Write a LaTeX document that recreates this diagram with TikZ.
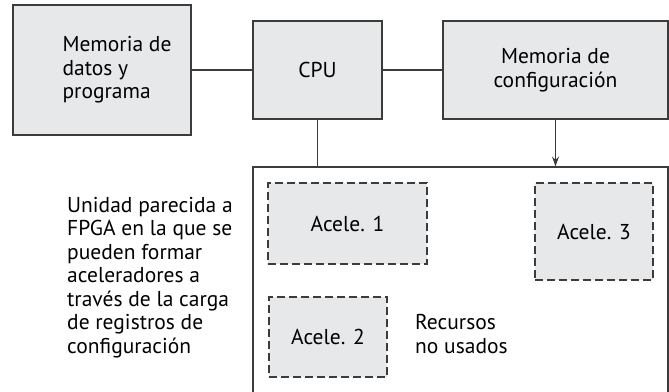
\documentclass[tikz,border=0pt]{standalone}
\usepackage{fontspec}
\setmainfont{PT Sans}
\usepackage{tikz}
\usetikzlibrary{arrows.meta,positioning}
\definecolor{boxgray}{RGB}{231,232,234}
\definecolor{edgegray}{RGB}{60,60,60}

\begin{document}
\begin{tikzpicture}[x=1pt,y=-1pt,>={Stealth[length=10pt,width=7pt]},
  font=\fontsize{21.5}{23.5}\selectfont,
  blk/.style={draw=edgegray,line width=1.1pt,fill=boxgray,inner sep=0pt,align=center},
  acc/.style={draw=edgegray,line width=1.1pt,fill=boxgray,inner sep=0pt,dash pattern=on 8pt off 4pt},
  wire/.style={edgegray,line width=1.1pt}]
  \useasboundingbox (0,0) rectangle (669,391);
  \node[blk,minimum width=178pt,minimum height=130pt,
    label={[xshift=15pt,align=left]center:Memoria de\\datos y\\programa}] (mem) at (102,70) {};
  \node[blk,minimum width=129pt,minimum height=98pt] (cpu) at (317.5,70) {CPU};
  \node[blk,minimum width=225pt,minimum height=98pt] (conf) at (555.5,70) {Memoria de\\configuración};
  \draw[wire] (mem) -- (cpu);
  \draw[wire] (cpu) -- (conf);
  % unidad reconfigurable (el borde inferior queda fuera)
  \node[draw=edgegray,line width=1.1pt,fill=white,minimum width=415pt,minimum height=240pt] (fpga) at (460.5,287) {};
  \draw[wire] (cpu.south) -- (cpu.south |- fpga.north);
  \draw[wire,->] (conf.south) -- (conf.south |- fpga.north);
  \node[acc,minimum width=159pt,minimum height=81pt] (ac1) at (347.5,223.5) {Acele. 1};
  \node[acc,minimum width=118pt,minimum height=97pt] (ac3) at (594,231.5) {Acele. 3};
  \node[acc,minimum width=118pt,minimum height=80pt] (ac2) at (328,337) {Acele. 2};
  \node[align=left,anchor=west,inner sep=0pt] (libre) at (415,334) {Recursos\\no usados};
  \node[align=left,anchor=west,inner sep=0pt] (desc) at (67,277.5) {Unidad parecida a\\FPGA en la que se\\pueden formar\\aceleradores a\\través de la carga\\de registros de\\configuración};
\end{tikzpicture}
\end{document}
